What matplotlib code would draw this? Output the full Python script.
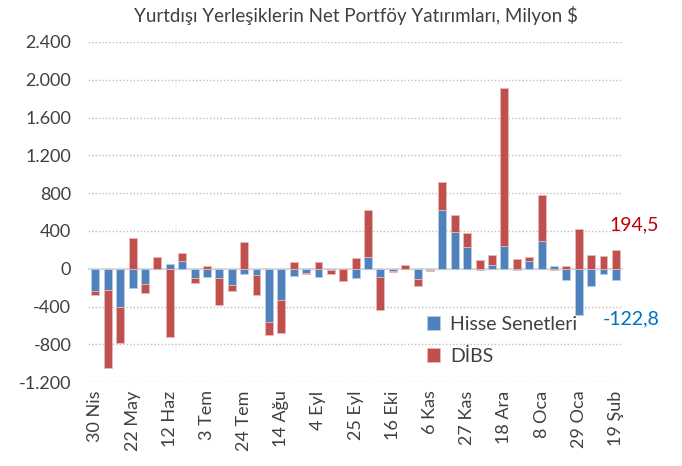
import matplotlib.pyplot as plt
import numpy as np

plt.rcParams['font.family'] = ['Lato', 'DejaVu Sans']

weeks = ["30 Nis", "7 May", "14 May", "22 May", "28 May", "5 Haz", "12 Haz", "19 Haz",
         "26 Haz", "3 Tem", "10 Tem", "17 Tem", "24 Tem", "31 Tem", "7 Ağu", "14 Ağu",
         "21 Ağu", "28 Ağu", "4 Eyl", "11 Eyl", "18 Eyl", "25 Eyl", "2 Eki", "9 Eki",
         "16 Eki", "23 Eki", "30 Eki", "6 Kas", "13 Kas", "20 Kas", "27 Kas", "4 Ara",
         "11 Ara", "18 Ara", "25 Ara", "1 Oca", "8 Oca", "15 Oca", "22 Oca", "29 Oca",
         "5 Şub", "12 Şub", "19 Şub"]

hisse = [-240, -225, -400, -205, -160, 0, 45, 80, -100, -90, -100, -170, -55, -65,
         -565, -330, -80, -40, -90, -18, 0, -95, 125, -90, -20, 0, -110, -15,
         620, 385, 230, -10, 40, 245, -15, 85, 290, 30, -120, -490, -185, -60, -122.8]
dibs = [-35, -830, -390, 320, -95, 120, -720, 85, -50, 25, -280, -65, 280, -215,
        -140, -355, 70, -20, 70, -35, -135, 110, 495, -350, -15, 40, -70, -8,
        295, 185, 150, 90, 100, 1665, 105, 40, 490, -15, 30, 420, 140, 130, 194.5]

blue = "#4F81BD"
red = "#C0504D"

hisse = np.array(hisse)
dibs = np.array(dibs)
x = np.arange(len(weeks))

# stack each series on the same side as its sign
pos_base = np.where(hisse > 0, hisse, 0)
neg_base = np.where(hisse < 0, hisse, 0)
dibs_bottom = np.where(dibs >= 0, pos_base, neg_base)

fig = plt.figure(figsize=(6.82, 4.66), dpi=100)
ax = fig.add_axes([0.129, 0.18, 0.785, 0.73])

w = 0.64
ax.bar(x, hisse, width=w, color=blue, edgecolor="#B9CDE5", linewidth=0.6,
       label="Hisse Senetleri", zorder=3)
ax.bar(x, dibs, width=w, bottom=dibs_bottom, color=red, edgecolor="#E6B9B8",
       linewidth=0.6, label="DİBS", zorder=3)

ax.axhline(0, color="#D9D9D9", linewidth=1.5, zorder=2)
ax.set_ylim(-1200, 2400)
ax.set_yticks(np.arange(-1200, 2401, 400))
ax.set_yticklabels([f"{v:,}".replace(",", ".") for v in range(-1200, 2401, 400)])
ax.yaxis.grid(True, linestyle=(0, (1, 1.5)), color="#BFBFBF", linewidth=1.0, zorder=0)
ax.set_xlim(-0.6, len(weeks) - 0.4)

ax.set_xticks(x[::3])
ax.set_xticklabels(weeks[::3], rotation=90)
ax.tick_params(axis="both", length=0, labelsize=13, colors="#404040")
ax.tick_params(axis="x", pad=6)
ax.tick_params(axis="y", pad=12)
for s in ax.spines.values():
    s.set_visible(False)

ax.set_title("Yurtdışı Yerleşiklerin Net Portföy Yatırımları, Milyon $",
             fontsize=13.5, color="#404040", pad=14)

ax.annotate("194,5", xy=(x[-1], dibs_bottom[-1] + dibs[-1]), xytext=(13, 18),
            textcoords="offset points", ha="center", va="center",
            color="#C00000", fontsize=14)
ax.annotate("-122,8", xy=(x[-1], hisse[-1]), xytext=(11, -28),
            textcoords="offset points", ha="center", va="center",
            color="#0070C0", fontsize=14)

leg = ax.legend(loc="lower left", bbox_to_anchor=(0.6, 0.0), frameon=False,
                fontsize=14, handlelength=0.7, handleheight=0.7,
                labelspacing=0.75, handletextpad=0.5, labelcolor="#404040")

fig.savefig("out.png", dpi=100)
